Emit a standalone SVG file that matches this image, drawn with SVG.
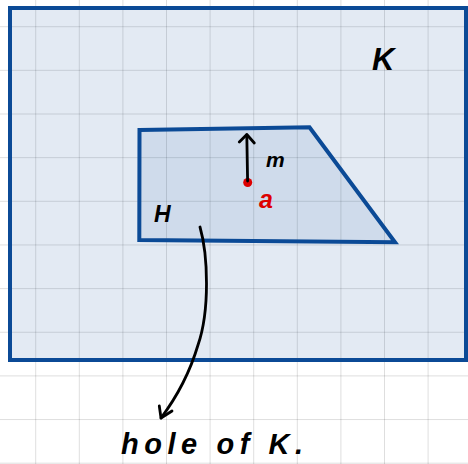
<svg xmlns="http://www.w3.org/2000/svg" width="468" height="464" viewBox="0 0 468 464">
<style>
.grid{stroke:#000;stroke-opacity:0.13;stroke-width:1;fill:none}
.region{stroke:#0b4a96;stroke-width:4;stroke-linejoin:miter;fill:#0b4a96;fill-opacity:0.115}
.hole{fill-opacity:0.09}
.ink{stroke:#000;stroke-width:2.8;fill:none;stroke-linecap:round;stroke-linejoin:round}
.lbl{font-family:"Liberation Sans",Arial,sans-serif;font-weight:bold;font-style:italic;fill:#000}
</style>
<rect width="468" height="464" fill="#fff"/>
<g id="grid">
<path class="grid" d="M35.7,0V464M79.3,0V464M122.9,0V464M166.5,0V464M210.1,0V464M253.7,0V464M297.3,0V464M340.9,0V464M384.5,0V464M428.1,0V464M0,26.7H468M0,70.35H468M0,114H468M0,157.65H468M0,201.3H468M0,244.95H468M0,288.6H468M0,332.25H468M0,375.9H468M0,419.55H468M0,463.2H468"/>
</g>
<g id="K">
<rect class="region" x="10" y="8" width="456" height="352"/>
<text class="lbl" x="372" y="70" font-size="31">K</text>
</g>
<g id="H">
<polygon class="region hole" points="139.5,130 309.5,127.3 395,242.3 139.3,240"/>
<text class="lbl" x="154" y="222" font-size="23">H</text>
</g>
<g id="a">
<circle cx="247.7" cy="182.5" r="4.5" fill="#dd0000"/>
<text class="lbl" x="259" y="208" font-size="25" style="fill:#dd0000">a</text>
</g>
<g id="caption">
<text class="lbl" x="121" y="454" font-size="29" textLength="182" lengthAdjust="spacing">hole of K.</text>
</g>
<g id="connectors">
<path class="ink" d="M247.6,181 L246.8,135"/>
<path class="ink" d="M239.3,142 L246.8,134.5 L254.3,143"/>
<text class="lbl" x="266" y="167" font-size="21">m</text>
<path class="ink" d="M200,227 C208,255 210,310 198,345 C190,372 176,398 161,418"/>
<path class="ink" d="M159.3,406 L161,418 L172,411"/>
</g>
</svg>
